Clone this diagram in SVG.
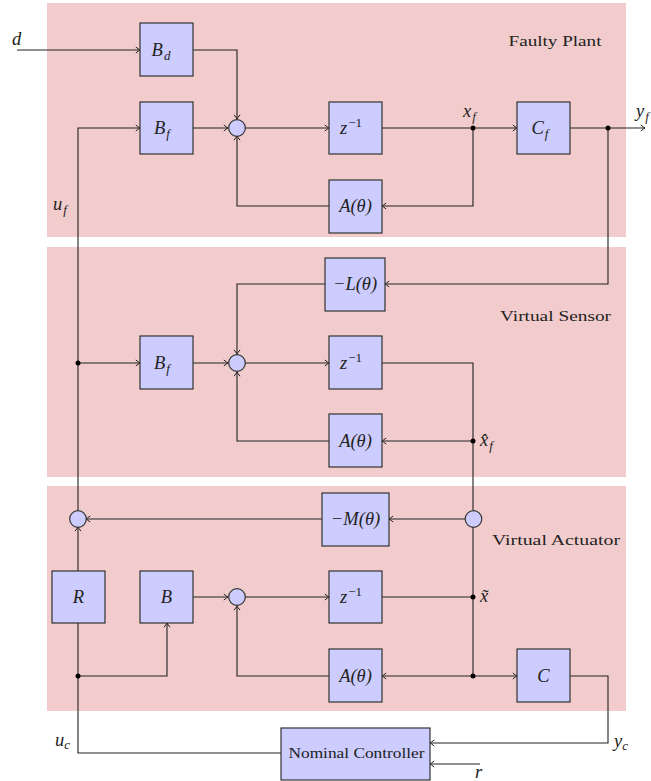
<svg xmlns="http://www.w3.org/2000/svg" width="651" height="781" viewBox="0 0 651 781" font-family="'Liberation Serif', 'DejaVu Serif', 'Times New Roman', serif">
<style>
.panel{fill:#f2cccc}
.box{fill:#ccccff;stroke:#333;stroke-width:1.2}
.sum{fill:#ccccff;stroke:#333;stroke-width:1.2}
.w{fill:none;stroke:#222;stroke-width:1.1}
.ar{marker-end:url(#arr)}
.dot{fill:#000}
text{fill:#222}
.m{font-style:italic;font-size:18.5px}
.lbl{font-size:15.5px}
.sub{font-size:13px;font-style:italic}
.sup{font-size:13px;font-style:normal}
</style>
<defs>
<marker id="arr" viewBox="-5 -4 6 8" refX="0" refY="0" markerWidth="6" markerHeight="8" markerUnits="userSpaceOnUse" orient="auto">
<path d="M -4.2 -3 Q -1.2 -0.6 0 0 Q -1.2 0.6 -4.2 3" fill="none" stroke="#222" stroke-width="1"/>
</marker>
</defs>
<g id="panels">
<rect class="panel" x="47" y="3" width="579" height="234"/>
<rect class="panel" x="47" y="247" width="579" height="230"/>
<rect class="panel" x="47" y="486" width="579" height="225"/>
<text class="lbl" x="508.5" y="45.5" textLength="93" lengthAdjust="spacingAndGlyphs">Faulty Plant</text>
<text class="lbl" x="500" y="321" textLength="111" lengthAdjust="spacingAndGlyphs">Virtual Sensor</text>
<text class="lbl" x="492" y="545" textLength="128" lengthAdjust="spacingAndGlyphs">Virtual Actuator</text>
</g>
<g id="connectors">
<path class="w ar" d="M 17 50 H 140"/>
<path class="w ar" d="M 193 50 H 237 V 119"/>
<path class="w ar" d="M 193 128 H 228"/>
<path class="w ar" d="M 245 128 H 329"/>
<path class="w ar" d="M 382 128 H 517"/>
<path class="w ar" d="M 473 128 V 206 H 382"/>
<path class="w ar" d="M 329 206 H 237 V 136"/>
<path class="w ar" d="M 570 128 H 645"/>
<path class="w ar" d="M 608 128 V 284 H 385"/>
<path class="w ar" d="M 325 284 H 237 V 354"/>
<path class="w ar" d="M 193 363 H 228"/>
<path class="w ar" d="M 245 363 H 329"/>
<path class="w" d="M 382 363 H 473 V 510"/>
<path class="w ar" d="M 473 441 H 382"/>
<path class="w ar" d="M 329 441 H 237 V 372"/>
<path class="w ar" d="M 465 519 H 389"/>
<path class="w ar" d="M 322 519 H 86"/>
<path class="w ar" d="M 78 571 V 527"/>
<path class="w ar" d="M 78 510 V 128 H 140"/>
<path class="w ar" d="M 78 363 H 140"/>
<path class="w ar" d="M 193 597 H 228"/>
<path class="w ar" d="M 245 597 H 329"/>
<path class="w" d="M 382 597 H 473"/>
<path class="w" d="M 473 527 V 676"/>
<path class="w ar" d="M 473 676 H 382"/>
<path class="w ar" d="M 473 676 H 517"/>
<path class="w ar" d="M 329 676 H 237 V 606"/>
<path class="w" d="M 78 623 V 753 H 281"/>
<path class="w ar" d="M 78 676 H 167 V 623"/>
<path class="w ar" d="M 570 676 H 608 V 743 H 430"/>
<path class="w ar" d="M 480 764 H 430"/>
<circle class="dot" cx="473" cy="128" r="2.5"/>
<circle class="dot" cx="608" cy="128" r="2.5"/>
<circle class="dot" cx="78" cy="363" r="2.5"/>
<circle class="dot" cx="473" cy="441" r="2.5"/>
<circle class="dot" cx="473" cy="597" r="2.5"/>
<circle class="dot" cx="473" cy="676" r="2.5"/>
<circle class="dot" cx="78" cy="676" r="2.5"/>
<text class="m" x="12" y="45">d</text>
<text class="m" x="463" y="117">x<tspan class="sub" dx="1" dy="4">f</tspan></text>
<text class="m" x="636" y="117">y<tspan class="sub" dx="1" dy="4">f</tspan></text>
<text class="m" x="53" y="210">u<tspan class="sub" dx="1" dy="4">f</tspan></text>
<text class="m" x="480" y="446">x̂<tspan class="sub" dx="1" dy="4">f</tspan></text>
<text class="m" x="480" y="602">x̃</text>
<text class="m" x="614" y="747">y<tspan class="sub" dx="0" dy="3">c</tspan></text>
<text class="m" x="55" y="746">u<tspan class="sub" dx="0" dy="3">c</tspan></text>
<text class="m" x="475" y="778">r</text>
</g>
<g id="Bd"><rect class="box" x="140" y="23" width="53" height="53"/><text class="m" x="161" y="56" text-anchor="middle">B<tspan class="sub" dx="1" dy="4">d</tspan></text></g>
<g id="Bf1"><rect class="box" x="140" y="102" width="53" height="52"/><text class="m" x="162" y="134" text-anchor="middle">B<tspan class="sub" dx="1" dy="4">f</tspan></text></g>
<g id="sum1"><circle class="sum" cx="237" cy="128" r="8.3"/></g>
<g id="z1"><rect class="box" x="329" y="102" width="53" height="52"/><text class="m" x="351" y="134" text-anchor="middle">z<tspan class="sup" dx="1" dy="-7">−1</tspan></text></g>
<g id="A1"><rect class="box" x="329" y="180" width="53" height="53"/><text class="m" x="355.5" y="212" text-anchor="middle">A(θ)</text></g>
<g id="Cf"><rect class="box" x="517" y="102" width="53" height="52"/><text class="m" x="540" y="134" text-anchor="middle">C<tspan class="sub" dx="1" dy="4">f</tspan></text></g>
<g id="L"><rect class="box" x="325" y="258" width="60" height="53"/><text class="m" x="355" y="290" text-anchor="middle">−L(θ)</text></g>
<g id="Bf2"><rect class="box" x="140" y="336" width="53" height="53"/><text class="m" x="162" y="369" text-anchor="middle">B<tspan class="sub" dx="1" dy="4">f</tspan></text></g>
<g id="sum2"><circle class="sum" cx="237" cy="363" r="8.3"/></g>
<g id="z2"><rect class="box" x="329" y="336" width="53" height="53"/><text class="m" x="351" y="369" text-anchor="middle">z<tspan class="sup" dx="1" dy="-7">−1</tspan></text></g>
<g id="A2"><rect class="box" x="329" y="414" width="53" height="53"/><text class="m" x="355.5" y="447" text-anchor="middle">A(θ)</text></g>
<g id="M"><rect class="box" x="322" y="493" width="67" height="53"/><text class="m" x="355.5" y="525" text-anchor="middle">−M(θ)</text></g>
<g id="sumR"><circle class="sum" cx="473.5" cy="519" r="8.3"/></g>
<g id="sumL"><circle class="sum" cx="78" cy="519" r="8.3"/></g>
<g id="R"><rect class="box" x="52" y="571" width="53" height="52"/><text class="m" x="78.5" y="603" text-anchor="middle">R</text></g>
<g id="B"><rect class="box" x="140" y="571" width="53" height="52"/><text class="m" x="166.5" y="603" text-anchor="middle">B</text></g>
<g id="sum3"><circle class="sum" cx="237" cy="597" r="8.3"/></g>
<g id="z3"><rect class="box" x="329" y="571" width="53" height="52"/><text class="m" x="351" y="603" text-anchor="middle">z<tspan class="sup" dx="1" dy="-7">−1</tspan></text></g>
<g id="A3"><rect class="box" x="329" y="649" width="53" height="53"/><text class="m" x="355.5" y="682" text-anchor="middle">A(θ)</text></g>
<g id="C"><rect class="box" x="517" y="649" width="53" height="53"/><text class="m" x="543.5" y="682" text-anchor="middle">C</text></g>
<g id="controller"><rect class="box" x="281" y="728" width="149" height="52"/><text x="288.5" y="757.5" font-size="14.5" textLength="136" lengthAdjust="spacingAndGlyphs">Nominal Controller</text></g>
</svg>
